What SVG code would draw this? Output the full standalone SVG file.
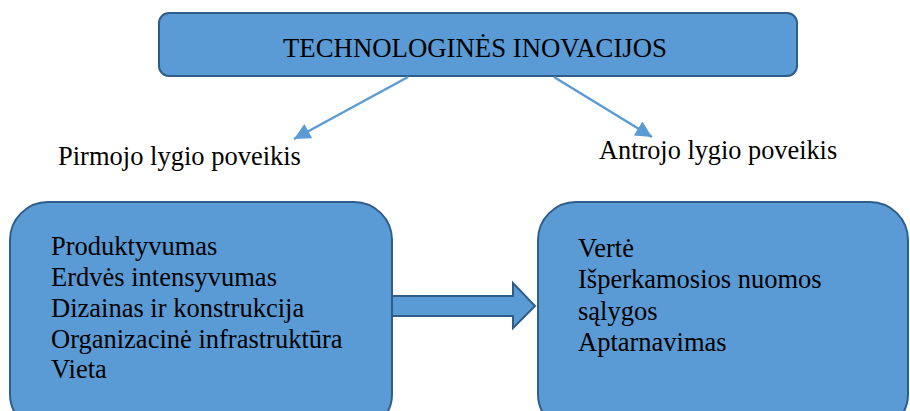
<svg xmlns="http://www.w3.org/2000/svg" width="910" height="411" viewBox="0 0 910 411">
<style>
.box{fill:#5B9BD5;stroke:#2F5D8A;stroke-width:2}
.t{fill:#000}
.ln{stroke:#5B9BD5;stroke-width:2.5;fill:none}
</style>
<defs>
<marker id="ah" viewBox="0 0 10 10" refX="10" refY="5" markerWidth="7.5" markerHeight="6.5" orient="auto" markerUnits="strokeWidth">
<path d="M0,0 L10,5 L0,10 z" fill="#5B9BD5"/>
</marker>
</defs>
<g id="top">
<rect class="box" x="159" y="13" width="638" height="63" rx="10"/>
<text class="t" font-family="Liberation Serif, Times New Roman, serif" x="475" y="57" font-size="28" text-anchor="middle" textLength="384" lengthAdjust="spacingAndGlyphs">TECHNOLOGINĖS INOVACIJOS</text>
</g>
<g id="connectors">
<line class="ln" x1="408" y1="77" x2="294" y2="139" marker-end="url(#ah)"/>
<line class="ln" x1="554" y1="77" x2="652" y2="137" marker-end="url(#ah)"/>
<path d="M392,296 L513,296 L513,283 L535,306 L513,328 L513,316 L392,316 Z" fill="#5B9BD5" stroke="#2F5D8A" stroke-width="2"/>
</g>
<g id="label1"><text class="t" font-family="Liberation Serif, Times New Roman, serif" x="58" y="165" font-size="26.5">Pirmojo lygio poveikis</text></g>
<g id="label2"><text class="t" font-family="Liberation Serif, Times New Roman, serif" x="599" y="159" font-size="26.3">Antrojo lygio poveikis</text></g>
<g id="left">
<rect class="box" x="10" y="202" width="382" height="230" rx="38"/>
<text class="t" font-family="Liberation Serif, Times New Roman, serif" font-size="26.5"><tspan x="51" y="255">Produktyvumas</tspan><tspan x="51" y="286">Erdvės intensyvumas</tspan><tspan x="51" y="317">Dizainas ir konstrukcija</tspan><tspan x="51" y="348">Organizacinė infrastruktūra</tspan><tspan x="51" y="378">Vieta</tspan></text>
</g>
<g id="right">
<rect class="box" x="538" y="202" width="370" height="230" rx="38"/>
<text class="t" font-family="Liberation Serif, Times New Roman, serif" font-size="26.5"><tspan x="578" y="257">Vertė</tspan><tspan x="578" y="288">Išperkamosios nuomos</tspan><tspan x="578" y="320">sąlygos</tspan><tspan x="578" y="351">Aptarnavimas</tspan></text>
</g>
</svg>
